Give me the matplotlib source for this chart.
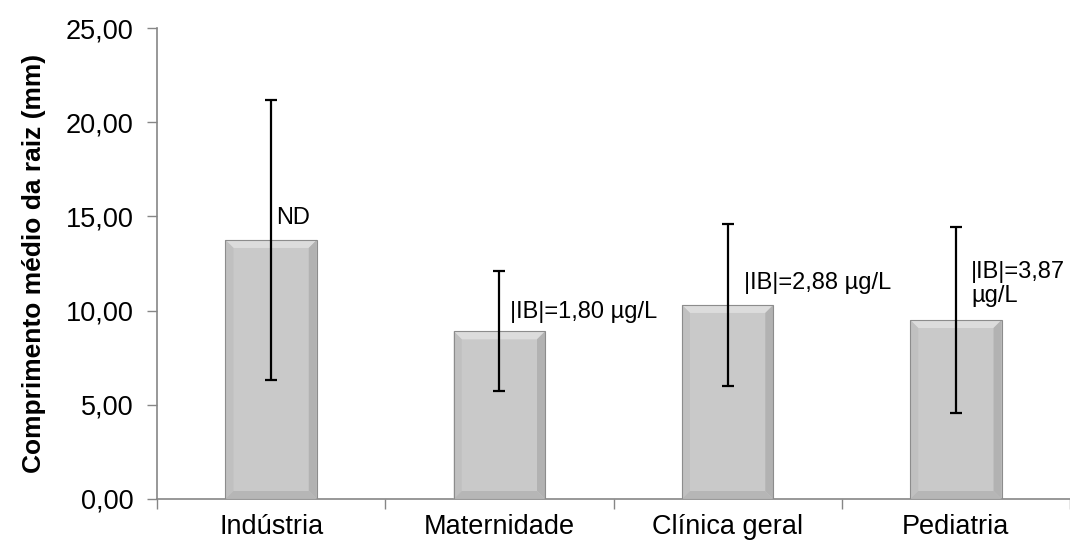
import numpy as np
import matplotlib.pyplot as plt
from matplotlib.patches import Polygon
from matplotlib.ticker import FuncFormatter, FixedLocator

plt.rcParams['font.family'] = ['Liberation Sans', 'DejaVu Sans']

# mean root length per sector, with its error
setores = ['Indústria', 'Maternidade', 'Clínica geral', 'Pediatria']
comprimento = [13.75, 8.90, 10.30, 9.50]
erro = [7.45, 3.18, 4.30, 4.93]
rotulos = ['ND', '|IB|=1,80 µg/L', '|IB|=2,88 µg/L', '|IB|=3,87\nµg/L']

fig = plt.figure(figsize=(10.7, 5.45), dpi=100)
ax = fig.add_axes([157 / 1070, 1 - 499 / 545, 1 - 157 / 1070, (499 - 28) / 545])

x = np.arange(len(setores))
largura = 0.4
barras = ax.bar(x, comprimento, width=largura, color='#c9c9c9', edgecolor='none', zorder=2)
ax.errorbar(x, comprimento, yerr=erro, fmt='none', ecolor='black', elinewidth=1.6,
            capsize=4.5, capthick=1.6, zorder=5)

ax.set_xlim(-0.5, 3.5)
ax.set_ylim(0, 25)

# bevel on each bar (drawn in pixel units, converted back to data)
fig.canvas.draw()
px_x = (ax.get_xlim()[1] - ax.get_xlim()[0]) / ax.bbox.width
px_y = (ax.get_ylim()[1] - ax.get_ylim()[0]) / ax.bbox.height
bx, by = 8 * px_x, 8 * px_y
for b in barras:
    x0, w, h = b.get_x(), b.get_width(), b.get_height()
    x1 = x0 + w
    lados = [
        ([(x0, h), (x1, h), (x1 - bx, h - by), (x0 + bx, h - by)], '#dcdcdc'),
        ([(x0, 0), (x0 + bx, by), (x0 + bx, h - by), (x0, h)], '#c0c0c0'),
        ([(x1, 0), (x1 - bx, by), (x1 - bx, h - by), (x1, h)], '#b2b2b2'),
        ([(x0, 0), (x1, 0), (x1 - bx, by), (x0 + bx, by)], '#b6b6b6'),
    ]
    for pts, cor in lados:
        ax.add_patch(Polygon(pts, closed=True, facecolor=cor, edgecolor='none', zorder=3))
    ax.add_patch(Polygon([(x0, 0), (x1, 0), (x1, h), (x0, h)], closed=True,
                         facecolor='none', edgecolor='#8c8c8c', linewidth=0.8, zorder=3))

# annotations next to the error bars
pos_rot = [(0.02, 14.9), (0.045, 9.95), (0.07, 11.46), (0.066, 11.4)]
for i, (dx, yy) in enumerate(pos_rot):
    ax.text(x[i] + dx, yy, rotulos[i], fontsize=17, ha='left', va='center', zorder=6,
            linespacing=1.1)

ax.set_yticks(np.arange(0, 26, 5))
ax.yaxis.set_major_formatter(FuncFormatter(lambda v, p: f'{v:.2f}'.replace('.', ',')))
ax.set_xticks(x)
ax.set_xticklabels(setores)
ax.xaxis.set_minor_locator(FixedLocator([-0.5, 0.5, 1.5, 2.5, 3.5]))
ax.tick_params(axis='x', which='major', length=0, pad=11, labelsize=19.5)
ax.tick_params(axis='x', which='minor', length=7, width=1, color='#868686', direction='out')
ax.tick_params(axis='y', length=7, width=1, color='#868686', pad=10, labelsize=19.5)

for s in ['top', 'right']:
    ax.spines[s].set_visible(False)
for s in ['left', 'bottom']:
    ax.spines[s].set_color('#868686')
    ax.spines[s].set_linewidth(1.2)

ax.set_ylabel('Comprimento médio da raiz (mm)', fontsize=19, fontweight='bold', labelpad=14)

fig.savefig('out.png', dpi=100)
